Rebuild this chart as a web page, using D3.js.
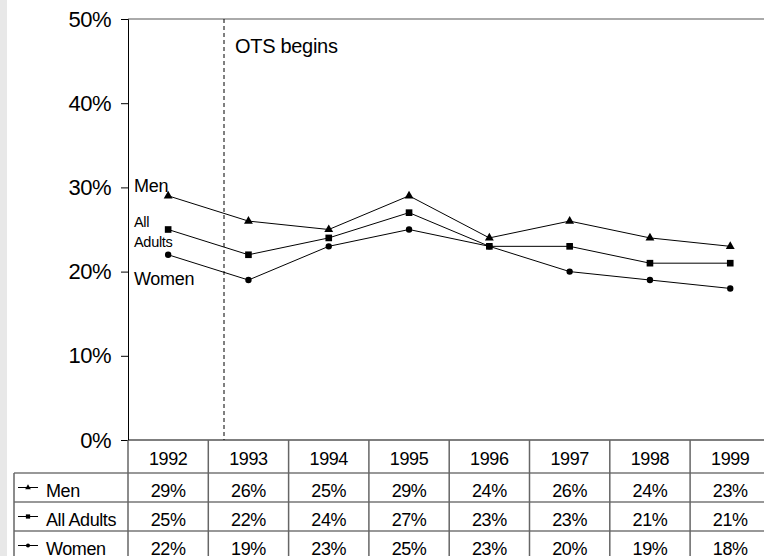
<!DOCTYPE html>
<html>
<head>
<meta charset="utf-8">
<script src="https://cdn.jsdelivr.net/npm/d3@7"></script>
<style>
  body { margin: 0; background: #fff; }
  text { font-family: "Liberation Sans", Arial, sans-serif; fill: #000; }
</style>
</head>
<body>
<div id="chart"></div>
<script>
// data
var years = ["1992", "1993", "1994", "1995", "1996", "1997", "1998", "1999"];
var men = [29, 26, 25, 29, 24, 26, 24, 23];
var allAdults = [25, 22, 24, 27, 23, 23, 21, 21];
var women = [22, 19, 23, 25, 23, 20, 19, 18];
var yTicks = [0, 10, 20, 30, 40, 50];

var series = [
  { name: "Men", values: men, symbol: d3.symbolTriangle, size: 34, small: 14 },
  { name: "All Adults", values: allAdults, symbol: d3.symbolSquare, size: 44, small: 18 },
  { name: "Women", values: women, symbol: d3.symbolCircle, size: 32, small: 13 }
];

var svgWidth = 764;
var svgHeight = 556;

var plotLeft = 128;
var plotTop = 19;
var plotBottom = 440;
var colWidth = 80.3;

var svg = d3.select("#chart")
  .append("svg")
  .attr("width", svgWidth)
  .attr("height", svgHeight);

// left grey strip
svg.append("rect")
  .attr("x", 0).attr("y", 0)
  .attr("width", 7).attr("height", svgHeight)
  .attr("fill", "#e8e8e8");

// scales
var xScale = d3.scaleBand()
  .domain(years)
  .range([plotLeft, plotLeft + colWidth * years.length])
  .padding(0);

var yScale = d3.scaleLinear()
  .domain([0, 50])
  .range([plotBottom, plotTop]);

// top frame line
svg.append("line")
  .attr("x1", plotLeft).attr("x2", svgWidth)
  .attr("y1", plotTop).attr("y2", plotTop)
  .attr("stroke", "#aaa")
  .attr("stroke-width", 2);

// y axis
var yAxis = svg.append("g")
  .attr("transform", `translate(${plotLeft}, 0)`)
  .call(d3.axisLeft(yScale).tickValues(yTicks).tickSize(7).tickPadding(10).tickFormat(d => d + "%"));

yAxis.select(".domain").attr("stroke", "#000").attr("stroke-width", 1);
yAxis.selectAll(".tick line").attr("stroke", "#000");
yAxis.selectAll(".tick text")
  .attr("font-size", 22)
  .attr("font-family", "Liberation Sans, Arial, sans-serif")
  .attr("letter-spacing", -0.5)
  .attr("fill", "#000");

// OTS dashed line
svg.append("line")
  .attr("x1", 224).attr("x2", 224)
  .attr("y1", plotTop).attr("y2", plotBottom)
  .attr("stroke", "#000")
  .attr("stroke-width", 1)
  .attr("stroke-dasharray", "4,3");

svg.append("text")
  .attr("x", 235).attr("y", 53)
  .attr("font-size", 20)
  .attr("letter-spacing", -0.3)
  .text("OTS begins");

// lines and markers
var line = d3.line()
  .x((d, i) => xScale(years[i]) + xScale.bandwidth() / 2)
  .y(d => yScale(d));

series.forEach(function(s) {
  svg.append("path")
    .datum(s.values)
    .attr("d", line)
    .attr("fill", "none")
    .attr("stroke", "#000")
    .attr("stroke-width", 1);

  svg.selectAll(null)
    .data(s.values)
    .enter()
    .append("path")
    .attr("d", d3.symbol().type(s.symbol).size(s.size))
    .attr("transform", (d, i) => `translate(${xScale(years[i]) + xScale.bandwidth() / 2}, ${yScale(d)})`)
    .attr("fill", "#000");
});

// series labels in plot
svg.append("text").attr("x", 134).attr("y", 192).attr("font-size", 18).attr("letter-spacing", -0.3).text("Men");
svg.append("text").attr("x", 134).attr("y", 227).attr("font-size", 14.5).attr("letter-spacing", -0.3).text("All");
svg.append("text").attr("x", 134).attr("y", 247).attr("font-size", 14.5).attr("letter-spacing", -0.3).text("Adults");
svg.append("text").attr("x", 134).attr("y", 285).attr("font-size", 18).attr("letter-spacing", -0.3).text("Women");

// data table
var tableRight = plotLeft + colWidth * years.length;
var headerBottom = 473;
var rowHeight = 29;
var labelLeft = 14;

// year header
svg.selectAll(".year")
  .data(years)
  .enter()
  .append("text")
  .attr("x", d => xScale(d) + xScale.bandwidth() / 2)
  .attr("y", 465)
  .attr("text-anchor", "middle")
  .attr("font-size", 18)
  .attr("letter-spacing", -0.4)
  .text(d => d);

// horizontal grid lines
[plotBottom, headerBottom, headerBottom + rowHeight, headerBottom + 2 * rowHeight].forEach(function(y, i) {
  svg.append("line")
    .attr("x1", i === 0 ? plotLeft : labelLeft).attr("x2", tableRight)
    .attr("y1", y).attr("y2", y)
    .attr("stroke", i === 0 ? "#000" : "#333")
    .attr("stroke-width", 1.2);
});

// vertical grid lines
years.forEach(function(yr) {
  svg.append("line")
    .attr("x1", xScale(yr)).attr("x2", xScale(yr))
    .attr("y1", plotBottom).attr("y2", svgHeight)
    .attr("stroke", "#666")
    .attr("stroke-width", 1.5);
});
svg.append("line")
  .attr("x1", labelLeft).attr("x2", labelLeft)
  .attr("y1", headerBottom).attr("y2", svgHeight)
  .attr("stroke", "#666")
  .attr("stroke-width", 1.5);

// rows
series.forEach(function(s, r) {
  var top = headerBottom + r * rowHeight;
  var yMid = top + rowHeight / 2;

  svg.append("line")
    .attr("x1", 18).attr("x2", 38)
    .attr("y1", yMid).attr("y2", yMid)
    .attr("stroke", "#000");
  svg.append("path")
    .attr("d", d3.symbol().type(s.symbol).size(s.small))
    .attr("transform", `translate(28, ${yMid})`)
    .attr("fill", "#000");

  svg.append("text")
    .attr("x", 46).attr("y", top + 24)
    .attr("font-size", 18)
    .attr("letter-spacing", -0.4)
    .text(s.name);

  svg.selectAll(null)
    .data(s.values)
    .enter()
    .append("text")
    .attr("x", (d, i) => xScale(years[i]) + xScale.bandwidth() / 2)
    .attr("y", top + 24)
    .attr("text-anchor", "middle")
    .attr("font-size", 18)
    .attr("letter-spacing", -0.4)
    .text(d => d + "%");
});
</script>
</body>
</html>
